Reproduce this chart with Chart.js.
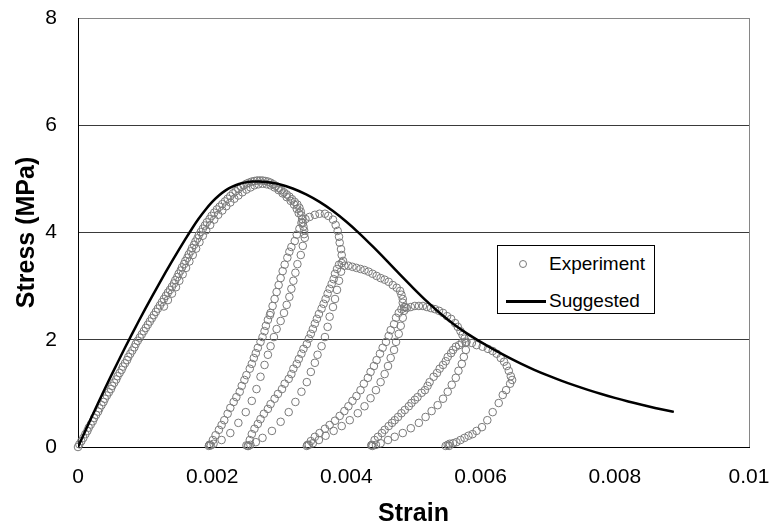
<!DOCTYPE html>
<html>
<head>
<meta charset="utf-8">
<script src="https://cdn.jsdelivr.net/npm/chart.js@4.4.1/dist/chart.umd.min.js"></script>
<style>
    html, body { margin: 0; padding: 0; background: #fff; }
    #wrap { position: relative; width: 775px; height: 529px; }
    #legend {
        position: absolute; left: 497px; top: 245px; width: 158px; height: 69px;
        box-sizing: border-box; border: 1px solid #000; background: #fff;
        font-family: 'Liberation Sans', Arial, sans-serif; font-size: 19px; color: #000;
    }
    .item { position: absolute; left: 51px; line-height: 22px; }
    .dot { position: absolute; left: 21px; top: 14px; width: 8px; height: 8px;
        border: 1px solid #7a7a7a; border-radius: 50%; box-sizing: border-box; }
    .line { position: absolute; left: 8px; top: 54px; width: 40px; height: 3px; background: #000; }
</style>
</head>
<body>
<div id="wrap">
    <canvas id="chart" width="775" height="529"></canvas>
    <div id="legend">
        <div class="dot"></div><div class="item" style="top:7px">Experiment</div>
        <div class="line"></div><div class="item" style="top:44px">Suggested</div>
    </div>
</div>
<script>
// Axis ticks
const strainTicks = [0, 0.002, 0.004, 0.006, 0.008, 0.01];
const stressTicks = [0, 2, 4, 6, 8];

// Experiment: first loading up to the peak and the drop (strain, MPa)
const envelopeRise = [
    [0, 0], [0.00002, 0.05], [0.00005, 0.11], [0.00008, 0.17], [0.00011, 0.24], [0.00014, 0.30],
    [0.00016, 0.36], [0.00019, 0.42], [0.00022, 0.48], [0.00024, 0.54], [0.00027, 0.60], [0.00030, 0.66],
    [0.00032, 0.72], [0.00035, 0.78], [0.00038, 0.84], [0.00040, 0.90], [0.00043, 0.96], [0.00046, 1.02],
    [0.00049, 1.08], [0.00051, 1.14], [0.00054, 1.20], [0.00057, 1.26], [0.00059, 1.32], [0.00062, 1.38],
    [0.00065, 1.44], [0.00067, 1.50], [0.00070, 1.56], [0.00073, 1.62], [0.00075, 1.68], [0.00078, 1.74],
    [0.00081, 1.80], [0.00084, 1.86], [0.00086, 1.92], [0.00089, 1.98], [0.00092, 2.04], [0.00095, 2.10],
    [0.00098, 2.16], [0.00101, 2.22], [0.00104, 2.28], [0.00107, 2.34], [0.00110, 2.40], [0.00113, 2.46],
    [0.00116, 2.52], [0.00119, 2.58], [0.00122, 2.64], [0.00125, 2.70], [0.00128, 2.76], [0.00131, 2.82],
    [0.00134, 2.88], [0.00137, 2.93], [0.00140, 2.99], [0.00143, 3.05], [0.00145, 3.11], [0.00148, 3.17],
    [0.00150, 3.23], [0.00153, 3.29], [0.00155, 3.35], [0.00158, 3.41], [0.00160, 3.47], [0.00163, 3.53],
    [0.00165, 3.59], [0.00168, 3.65], [0.00170, 3.71], [0.00173, 3.77], [0.00175, 3.83], [0.00178, 3.89],
    [0.00180, 3.95], [0.00183, 4.01], [0.00186, 4.07], [0.00189, 4.13], [0.00192, 4.19], [0.00196, 4.25],
    [0.00199, 4.31], [0.00203, 4.37], [0.00207, 4.43], [0.00211, 4.48], [0.00215, 4.53], [0.00219, 4.58],
    [0.00223, 4.63], [0.00227, 4.68], [0.00231, 4.73], [0.00235, 4.77], [0.00239, 4.81], [0.00243, 4.85],
    [0.00247, 4.88], [0.00251, 4.91], [0.00255, 4.93], [0.00259, 4.95], [0.00263, 4.96], [0.00267, 4.97],
    [0.00271, 4.97], [0.00275, 4.97], [0.00279, 4.96], [0.00283, 4.95], [0.00287, 4.93], [0.00291, 4.90],
    [0.00295, 4.87], [0.00299, 4.83], [0.00303, 4.79], [0.00307, 4.75], [0.00311, 4.71], [0.00315, 4.67],
    [0.00319, 4.62], [0.00323, 4.57], [0.00327, 4.52], [0.00330, 4.46], [0.00332, 4.39], [0.00333, 4.32],
    [0.00334, 4.25], [0.00335, 4.18], [0.00336, 4.11], [0.00337, 4.04], [0.00337, 3.97]
];

// Experiment: scattered readings that thicken the band near the peak
const envelopeBand = [
    [0.00128, 2.62], [0.00134, 2.74], [0.00140, 2.86], [0.00146, 2.98], [0.00151, 3.10], [0.00156, 3.22],
    [0.00161, 3.34], [0.00166, 3.46], [0.00171, 3.58], [0.00176, 3.70], [0.00181, 3.82], [0.00186, 3.94],
    [0.00191, 4.04], [0.00197, 4.14], [0.00203, 4.24], [0.00209, 4.33], [0.00215, 4.41], [0.00221, 4.49],
    [0.00227, 4.56], [0.00233, 4.63], [0.00239, 4.69], [0.00245, 4.75], [0.00251, 4.80], [0.00257, 4.84],
    [0.00263, 4.88], [0.00269, 4.90], [0.00275, 4.91], [0.00281, 4.90], [0.00287, 4.88], [0.00293, 4.84],
    [0.00299, 4.79], [0.00305, 4.73], [0.00311, 4.66], [0.00317, 4.59], [0.00322, 4.52], [0.00326, 4.44],
    [0.00329, 4.36]
];

// Cycle 1
const loop1Down = [
    [0.00338, 3.90], [0.00335, 3.75], [0.00332, 3.58], [0.00327, 3.41], [0.00324, 3.25], [0.00321, 3.10],
    [0.00318, 2.95], [0.00315, 2.80], [0.00311, 2.65], [0.00307, 2.50], [0.00302, 2.35], [0.00296, 2.20],
    [0.00292, 2.05], [0.00287, 1.88], [0.00283, 1.72], [0.00278, 1.53], [0.00272, 1.31], [0.00266, 1.08],
    [0.00259, 0.86], [0.00250, 0.65], [0.00239, 0.45], [0.00227, 0.26], [0.00214, 0.13], [0.00202, 0.06],
    [0.00196, 0.04], [0.00195, 0.02], [0.00198, 0.03]
];
const loop1Up = [
    [0.00196, 0.04], [0.00201, 0.13], [0.00205, 0.22], [0.00210, 0.32], [0.00214, 0.41], [0.00218, 0.50],
    [0.00223, 0.62], [0.00227, 0.73], [0.00232, 0.84], [0.00236, 0.93], [0.00241, 1.03], [0.00244, 1.14],
    [0.00248, 1.25], [0.00251, 1.34], [0.00256, 1.46], [0.00259, 1.55], [0.00262, 1.66], [0.00265, 1.75],
    [0.00268, 1.85], [0.00272, 1.96], [0.00275, 2.05], [0.00278, 2.16], [0.00280, 2.26], [0.00283, 2.37],
    [0.00286, 2.46], [0.00287, 2.50], [0.00290, 2.63], [0.00293, 2.76], [0.00296, 2.89], [0.00299, 3.02],
    [0.00302, 3.15], [0.00305, 3.28], [0.00308, 3.40], [0.00312, 3.53], [0.00315, 3.64], [0.00318, 3.73],
    [0.00323, 3.84], [0.00326, 3.96], [0.00330, 4.07], [0.00333, 4.18], [0.00339, 4.25], [0.00345, 4.29],
    [0.00353, 4.33], [0.00360, 4.35], [0.00368, 4.35], [0.00373, 4.31], [0.00380, 4.24], [0.00384, 4.14],
    [0.00387, 4.03], [0.00389, 3.92], [0.00390, 3.81], [0.00392, 3.69], [0.00393, 3.58], [0.00395, 3.47]
];

// Cycle 2
const loop2Down = [
    [0.00392, 3.27], [0.00389, 3.10], [0.00386, 2.93], [0.00383, 2.76], [0.00380, 2.61], [0.00375, 2.43],
    [0.00372, 2.24], [0.00368, 2.05], [0.00363, 1.88], [0.00357, 1.72], [0.00353, 1.57], [0.00347, 1.40],
    [0.00341, 1.21], [0.00333, 1.03], [0.00324, 0.84], [0.00314, 0.65], [0.00302, 0.47], [0.00289, 0.30],
    [0.00275, 0.17], [0.00265, 0.09], [0.00257, 0.04], [0.00254, 0.02], [0.00251, 0.03]
];
const loop2Up = [
    [0.00253, 0.02], [0.00256, 0.13], [0.00259, 0.24], [0.00263, 0.34], [0.00268, 0.43], [0.00272, 0.52],
    [0.00277, 0.62], [0.00283, 0.71], [0.00287, 0.80], [0.00293, 0.90], [0.00298, 0.99], [0.00304, 1.08],
    [0.00308, 1.18], [0.00314, 1.27], [0.00318, 1.36], [0.00321, 1.46], [0.00326, 1.55], [0.00329, 1.64],
    [0.00333, 1.74], [0.00336, 1.83], [0.00341, 1.92], [0.00344, 2.02], [0.00347, 2.11], [0.00350, 2.20],
    [0.00353, 2.30], [0.00356, 2.39], [0.00359, 2.48], [0.00363, 2.58], [0.00366, 2.67], [0.00369, 2.76],
    [0.00372, 2.86], [0.00375, 2.95], [0.00378, 3.04], [0.00381, 3.13], [0.00383, 3.23], [0.00386, 3.32],
    [0.00389, 3.40], [0.00393, 3.43]
];

// Cycle 3
const plateau3 = [
    [0.00397, 3.38], [0.00403, 3.38], [0.00409, 3.36], [0.00415, 3.34], [0.00421, 3.32], [0.00427, 3.30],
    [0.00433, 3.27], [0.00439, 3.23], [0.00445, 3.19], [0.00451, 3.15], [0.00457, 3.12], [0.00463, 3.08],
    [0.00469, 3.02], [0.00475, 2.97], [0.00480, 2.91], [0.00482, 2.84], [0.00484, 2.76], [0.00484, 2.69],
    [0.00486, 2.61], [0.00486, 2.54]
];
const loop3Down = [
    [0.00484, 2.41], [0.00481, 2.26], [0.00478, 2.11], [0.00474, 1.96], [0.00471, 1.81], [0.00466, 1.66],
    [0.00462, 1.51], [0.00457, 1.36], [0.00451, 1.21], [0.00444, 1.06], [0.00436, 0.91], [0.00427, 0.76],
    [0.00417, 0.63], [0.00405, 0.50], [0.00393, 0.39], [0.00381, 0.30], [0.00369, 0.21], [0.00359, 0.13],
    [0.00350, 0.07], [0.00344, 0.04], [0.00341, 0.02]
];
const loop3Up = [
    [0.00342, 0.04], [0.00347, 0.11], [0.00353, 0.19], [0.00360, 0.26], [0.00368, 0.34], [0.00375, 0.41],
    [0.00383, 0.49], [0.00390, 0.58], [0.00397, 0.67], [0.00403, 0.76], [0.00409, 0.86], [0.00415, 0.95],
    [0.00421, 1.06], [0.00426, 1.18], [0.00432, 1.29], [0.00436, 1.40], [0.00441, 1.51], [0.00445, 1.62],
    [0.00450, 1.74], [0.00454, 1.85], [0.00459, 1.96], [0.00463, 2.07], [0.00466, 2.18], [0.00471, 2.29],
    [0.00474, 2.41], [0.00478, 2.50], [0.00482, 2.57], [0.00488, 2.61]
];

// Cycle 4
const plateau4 = [
    [0.00490, 2.59], [0.00496, 2.61], [0.00502, 2.63], [0.00508, 2.63], [0.00514, 2.63], [0.00520, 2.61],
    [0.00526, 2.59], [0.00532, 2.57], [0.00538, 2.54], [0.00544, 2.50], [0.00550, 2.44], [0.00556, 2.39],
    [0.00562, 2.31], [0.00566, 2.24], [0.00570, 2.16], [0.00573, 2.09], [0.00576, 2.02], [0.00578, 1.94]
];
const loop4Down = [
    [0.00578, 1.81], [0.00575, 1.68], [0.00572, 1.55], [0.00567, 1.42], [0.00563, 1.29], [0.00557, 1.16],
    [0.00551, 1.03], [0.00544, 0.90], [0.00536, 0.78], [0.00527, 0.67], [0.00518, 0.56], [0.00508, 0.45],
    [0.00496, 0.35], [0.00484, 0.26], [0.00472, 0.19], [0.00462, 0.13], [0.00451, 0.07], [0.00444, 0.04],
    [0.00439, 0.02], [0.00437, 0.03]
];
const loop4Up = [
    [0.00438, 0.04], [0.00442, 0.13], [0.00447, 0.19], [0.00453, 0.26], [0.00457, 0.32], [0.00463, 0.39],
    [0.00468, 0.45], [0.00472, 0.50], [0.00477, 0.56], [0.00482, 0.63], [0.00487, 0.69], [0.00493, 0.76],
    [0.00497, 0.82], [0.00502, 0.88], [0.00506, 0.93], [0.00512, 1.01], [0.00517, 1.06], [0.00521, 1.14],
    [0.00524, 1.21], [0.00530, 1.31], [0.00535, 1.38], [0.00539, 1.46], [0.00544, 1.53], [0.00548, 1.60],
    [0.00551, 1.68], [0.00556, 1.75], [0.00559, 1.81], [0.00563, 1.87], [0.00568, 1.90], [0.00572, 1.94]
];

// Cycle 5 (last unloading)
const plateau5 = [
    [0.00579, 1.96], [0.00587, 1.94], [0.00594, 1.90], [0.00603, 1.87], [0.00611, 1.83], [0.00618, 1.79],
    [0.00624, 1.74], [0.00630, 1.66], [0.00635, 1.59], [0.00639, 1.51], [0.00642, 1.42], [0.00645, 1.32],
    [0.00647, 1.25]
];
const loop5Down = [
    [0.00644, 1.18], [0.00638, 1.06], [0.00633, 0.97], [0.00627, 0.82], [0.00618, 0.65], [0.00610, 0.50],
    [0.00602, 0.37], [0.00594, 0.30], [0.00588, 0.24], [0.00582, 0.21], [0.00576, 0.17], [0.00570, 0.13],
    [0.00564, 0.09], [0.00559, 0.07], [0.00554, 0.06], [0.00551, 0.04], [0.00548, 0.02], [0.00553, 0.02]
];

// Suggested model curve
const suggestedStrain = [
    0, 0.0001, 0.0002, 0.0003, 0.0004, 0.0005, 0.0006, 0.0007, 0.0008, 0.0009, 0.0010, 0.0011, 0.0012,
    0.0013, 0.0014, 0.0015, 0.0016, 0.0017, 0.0018, 0.0019, 0.0020, 0.0021, 0.0022, 0.0023, 0.0024, 0.0025,
    0.0026, 0.0027, 0.0028, 0.0030, 0.0032, 0.0034, 0.0036, 0.0038, 0.0040, 0.0042, 0.0044, 0.0046, 0.0048,
    0.0050, 0.0052, 0.0054, 0.0056, 0.0058, 0.0060, 0.0062, 0.0064, 0.0066, 0.0068, 0.0070, 0.0072, 0.0074,
    0.0076, 0.0078, 0.0080, 0.0082, 0.0084, 0.0086, 0.0088, 0.00888
];
const suggestedStress = [
    0, 0.275, 0.55, 0.82, 1.085, 1.345, 1.60, 1.85, 2.095, 2.335, 2.57, 2.80, 3.025,
    3.245, 3.46, 3.67, 3.875, 4.075, 4.26, 4.425, 4.57, 4.69, 4.785, 4.855, 4.905, 4.935,
    4.95, 4.95, 4.94, 4.90, 4.82, 4.71, 4.57, 4.40, 4.20, 3.975, 3.73, 3.475, 3.215,
    2.96, 2.715, 2.49, 2.29, 2.115, 1.96, 1.815, 1.68, 1.555, 1.44, 1.335, 1.238, 1.148,
    1.065, 0.988, 0.916, 0.849, 0.787, 0.729, 0.675, 0.655
];

const experimentPoints = [
    envelopeRise, envelopeBand, loop1Down, loop1Up, loop2Down, loop2Up,
    plateau3, loop3Down, loop3Up, plateau4, loop4Down, loop4Up, plateau5, loop5Down
].flat().map(p => ({ x: p[0], y: p[1] }));

const suggestedPoints = suggestedStrain.map((x, i) => ({ x: x, y: suggestedStress[i] }));

const FONT = "'Liberation Sans', Arial, sans-serif";
Chart.defaults.font.family = FONT;
Chart.defaults.color = '#000';

new Chart(document.getElementById('chart'), {
    type: 'scatter',
    data: {
        datasets: [
            {
                label: 'Suggested',
                data: suggestedPoints,
                showLine: true,
                borderColor: '#000',
                borderWidth: 2.5,
                pointRadius: 0,
                cubicInterpolationMode: 'monotone',
                order: 0
            },
            {
                label: 'Experiment',
                data: experimentPoints,
                showLine: false,
                pointStyle: 'circle',
                pointRadius: 3.8,
                pointBorderWidth: 1,
                pointBorderColor: '#7a7a7a',
                pointBackgroundColor: 'rgba(0,0,0,0)',
                clip: false,
                order: 1
            }
        ]
    },
    options: {
        responsive: false,
        devicePixelRatio: 1,
        animation: false,
        events: [],
        layout: { padding: { top: 18, right: 26, left: 0, bottom: 0 } },
        plugins: {
            legend: { display: false },
            tooltip: { enabled: false }
        },
        scales: {
            x: {
                type: 'linear',
                min: 0,
                max: 0.01,
                afterBuildTicks: scale => { scale.ticks = strainTicks.map(v => ({ value: v })); },
                afterFit: scale => { scale.height = 82; },
                border: { color: '#000', width: 1 },
                grid: {
                    drawTicks: true,
                    tickLength: 18,
                    tickColor: 'rgba(0,0,0,0)',
                    color: ctx => (ctx.tick && ctx.tick.value === 0.01) ? '#868686' : 'rgba(0,0,0,0)'
                },
                ticks: {
                    padding: 0,
                    maxRotation: 0,
                    font: { size: 21 },
                    callback: value => String(value)
                },
                title: {
                    display: true,
                    text: 'Strain',
                    font: { size: 25, weight: 'bold' },
                    padding: { top: 0, bottom: 0 }
                }
            },
            y: {
                type: 'linear',
                min: 0,
                max: 8,
                afterBuildTicks: scale => { scale.ticks = stressTicks.map(v => ({ value: v })); },
                afterFit: scale => { scale.width = 78; },
                border: { color: '#000', width: 1 },
                grid: {
                    drawTicks: true,
                    tickLength: 21,
                    tickColor: 'rgba(0,0,0,0)',
                    color: ctx => {
                        if (!ctx.tick) return 'rgba(0,0,0,0)';
                        if (ctx.tick.value === 0) return 'rgba(0,0,0,0)';
                        if (ctx.tick.value === 8) return '#868686';
                        return '#3a3a3a';
                    }
                },
                ticks: {
                    padding: 0,
                    font: { size: 21 },
                    callback: value => String(value)
                },
                title: {
                    display: true,
                    text: 'Stress (MPa)',
                    font: { size: 25, weight: 'bold' },
                    padding: { top: 12, bottom: 0 }
                }
            }
        }
    }
});
</script>
</body>
</html>
